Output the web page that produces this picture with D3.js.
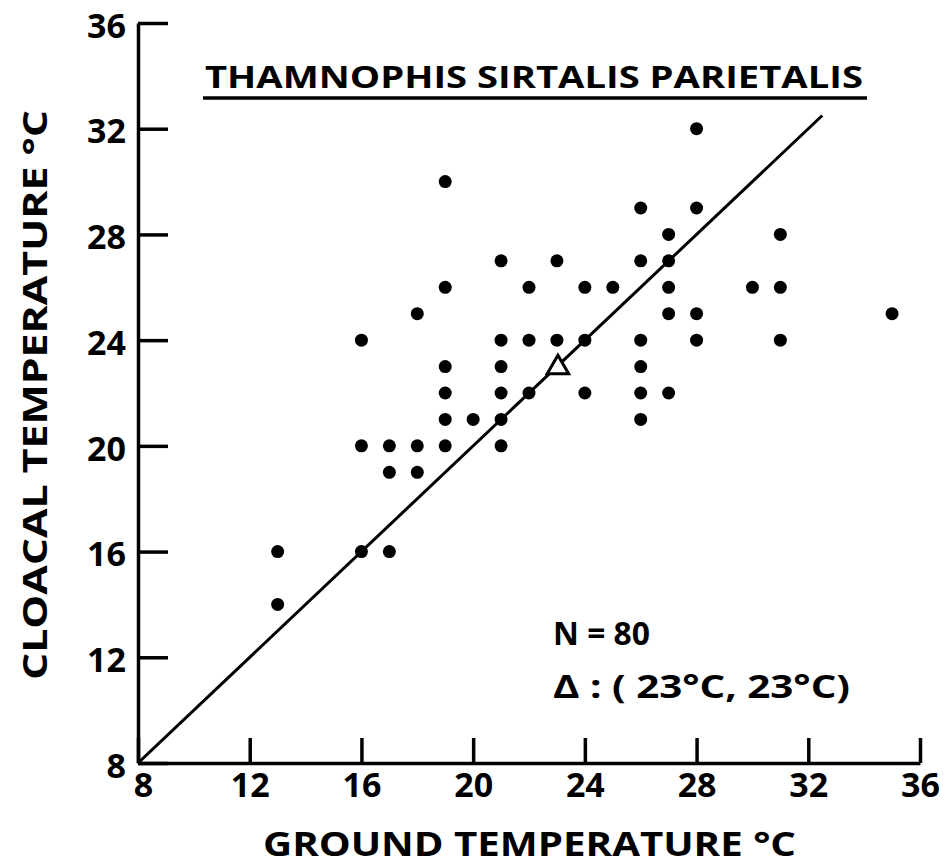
<!DOCTYPE html>
<html>
<head>
<meta charset="utf-8">
<title>Thamnophis sirtalis parietalis</title>
<script src="https://d3js.org/d3.v7.min.js"></script>
<style>
  body { margin: 0; background: #fff; }
  text { font-family: "Open Sans", "DejaVu Sans", sans-serif; font-weight: 700; fill: #000; }
</style>
</head>
<body>
<div id="chart"></div>
<script>
// ground temperature (x) and cloacal temperature (y) for each dot
const groundTemp  = [13,13, 16,16,16, 17,17,17, 18,18,18, 19,19,19,19,19,19, 20,
                     21,21,21,21,21,21, 22,22,22, 23,23, 24,24,24, 25,
                     26,26,26,26,26,26, 27,27,27,27,27, 28,28,28,28, 30, 31,31,31, 35];
const cloacalTemp = [16,14, 24,20,16, 20,19,16, 25,20,19, 30,26,23,22,21,20, 21,
                     27,24,23,22,21,20, 26,24,22, 27,24, 26,24,22, 26,
                     29,27,24,23,22,21, 28,27,26,25,22, 32,29,25,24, 26, 28,26,24, 25];
const meanPoint = [23, 23];
const lineEnd = 32.5;
const tickValues = [8, 12, 16, 20, 24, 28, 32, 36];

const width = 947, height = 867;
const svg = d3.select("#chart").append("svg")
    .attr("width", width)
    .attr("height", height);

const x = d3.scaleLinear().domain([8, 36]).range([138, 920]);
const y = d3.scaleLinear().domain([8, 36]).range([763, 23]);

// axes (ticks point inwards)
const xAxis = d3.axisBottom(x).tickValues(tickValues).tickSizeInner(-25).tickSizeOuter(0).tickPadding(14);
const yAxis = d3.axisLeft(y).tickValues(tickValues).tickSizeInner(-30).tickSizeOuter(0).tickPadding(12);

const gx = svg.append("g").attr("transform", "translate(0," + y(8) + ")").call(xAxis);
const gy = svg.append("g").attr("transform", "translate(" + x(8) + ",0)").call(yAxis);

[gx, gy].forEach(function(g) {
  g.selectAll("path, line").attr("stroke", "#000").attr("stroke-width", 3.5);
  g.selectAll("text").style("font-size", "34px").attr("fill", "#000");
});
gx.selectAll("text").attr("dy", "0.6em");
gy.selectAll("text").attr("dy", "0.42em");
gy.selectAll(".tick").filter(function(d) { return d === 8; }).select("text").attr("x", -12).attr("dy", "0.42em");
gx.selectAll(".tick").filter(function(d) { return d === 8; }).select("text").attr("x", 5);

// 1:1 line
svg.append("line")
    .attr("x1", x(8)).attr("y1", y(8))
    .attr("x2", x(lineEnd)).attr("y2", y(lineEnd))
    .attr("stroke", "#000").attr("stroke-width", 3);

// dots
svg.selectAll("circle")
    .data(groundTemp.map(function(g, i) { return [g, cloacalTemp[i]]; }))
    .enter()
    .append("circle")
    .attr("cx", function(d) { return x(d[0]); })
    .attr("cy", function(d) { return y(d[1]); })
    .attr("r", 6.5)
    .attr("fill", "#000");

// mean triangle
const tri = d3.symbol().type(d3.symbolTriangle).size(200);
svg.append("path")
    .attr("d", tri())
    .attr("transform", "translate(" + (x(meanPoint[0]) + 1) + "," + (y(meanPoint[1]) + 1) + ")")
    .attr("fill", "#fff")
    .attr("stroke", "#000")
    .attr("stroke-width", 3);

// title with underline
svg.append("text")
    .attr("x", 205).attr("y", 88)
    .attr("textLength", 658).attr("lengthAdjust", "spacingAndGlyphs")
    .style("font-size", "30px")
    .text("THAMNOPHIS SIRTALIS PARIETALIS");
svg.append("line")
    .attr("x1", 203).attr("x2", 867)
    .attr("y1", 98).attr("y2", 98)
    .attr("stroke", "#000").attr("stroke-width", 3.5);

// axis titles
svg.append("text")
    .attr("x", 263).attr("y", 856)
    .attr("textLength", 533).attr("lengthAdjust", "spacingAndGlyphs")
    .style("font-size", "34px")
    .text("GROUND TEMPERATURE   \u00B0C");

svg.append("text")
    .attr("transform", "translate(47,680) rotate(-90)")
    .attr("textLength", 570).attr("lengthAdjust", "spacingAndGlyphs")
    .style("font-size", "34px")
    .text("CLOACAL TEMPERATURE   \u00B0C");

// annotations
svg.append("text")
    .attr("x", 553).attr("y", 645)
    .attr("textLength", 97).attr("lengthAdjust", "spacingAndGlyphs")
    .style("font-size", "32px")
    .text("N = 80");
svg.append("text")
    .attr("x", 553).attr("y", 698)
    .attr("textLength", 297).attr("lengthAdjust", "spacingAndGlyphs")
    .style("font-size", "32px")
    .text("\u0394 : ( 23\u00B0C, 23\u00B0C)");
</script>
</body>
</html>
